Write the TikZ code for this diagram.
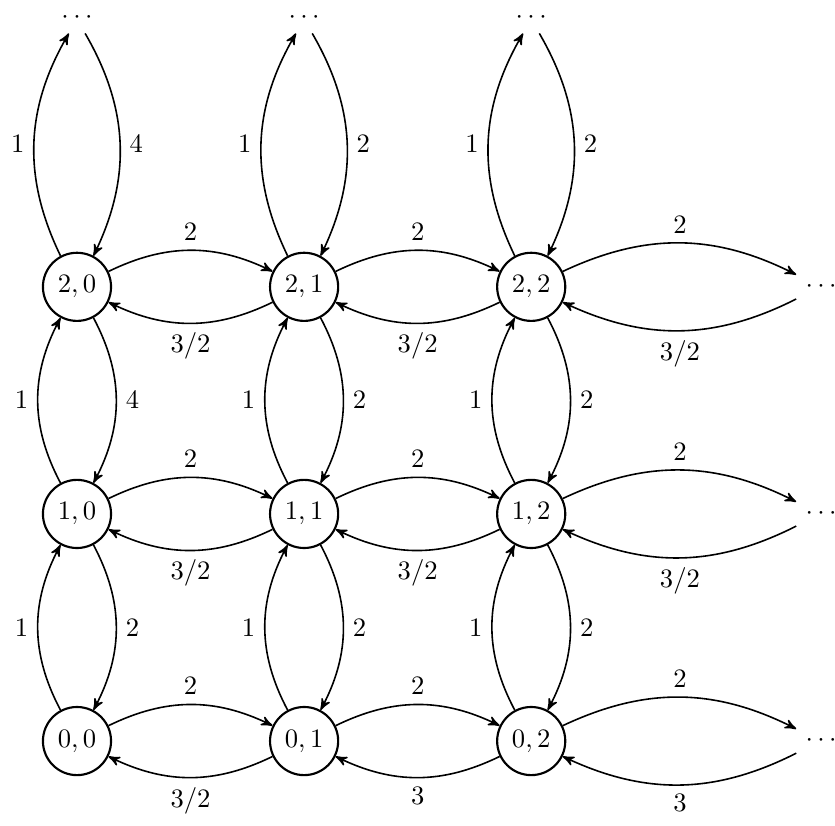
\documentclass[tikz,border=0pt]{standalone}
\usetikzlibrary{arrows}
\begin{document}
\begin{tikzpicture}[>=stealth', auto,
  st/.style={circle,draw,thick,minimum size=0.9cm,inner sep=0pt},
  e/.style={->,semithick,bend left=26},
  v/.style={->,semithick,bend left=28}]
\useasboundingbox (-1.017,-1.109) rectangle (10.013,9.789);
% states
\foreach \r in {0,1,2}{
  \foreach \c in {0,1,2}{
    \node[st] (n\r\c) at (3*\c,3*\r) {$\r,\c$};
  }
  \node (r\r) at (9.83,3*\r) {$\cdots$};
}
\foreach \c in {0,1,2}{
  \node (t\c) at (3*\c,9.55) {$\cdots$};
}
% horizontal edges
\foreach \r in {0,1,2}{
  \path (n\r0) edge[e] node {$2$} (n\r1)
        (n\r1) edge[e] node {$3/2$} (n\r0)
        (n\r1) edge[e] node {$2$} (n\r2)
        (n\r2) edge[e] node {$2$} (r\r);
}
\path (n02) edge[e] node {$3$} (n01)
      (r0) edge[e] node {$3$} (n02)
      (n12) edge[e] node {$3/2$} (n11)
      (r1) edge[e] node {$3/2$} (n12)
      (n22) edge[e] node {$3/2$} (n21)
      (r2) edge[e] node {$3/2$} (n22);
% vertical edges
\foreach \c in {0,1,2}{
  \path (n0\c) edge[v] node {$1$} (n1\c)
        (n1\c) edge[v] node {$1$} (n2\c)
        (n2\c) edge[v] node {$1$} (t\c);
}
\path (n10) edge[v] node {$2$} (n00)
      (n20) edge[v] node {$4$} (n10)
      (t0) edge[v] node {$4$} (n20)
      (n11) edge[v] node {$2$} (n01)
      (n21) edge[v] node {$2$} (n11)
      (t1) edge[v] node {$2$} (n21)
      (n12) edge[v] node {$2$} (n02)
      (n22) edge[v] node {$2$} (n12)
      (t2) edge[v] node {$2$} (n22);
\end{tikzpicture}
\end{document}
